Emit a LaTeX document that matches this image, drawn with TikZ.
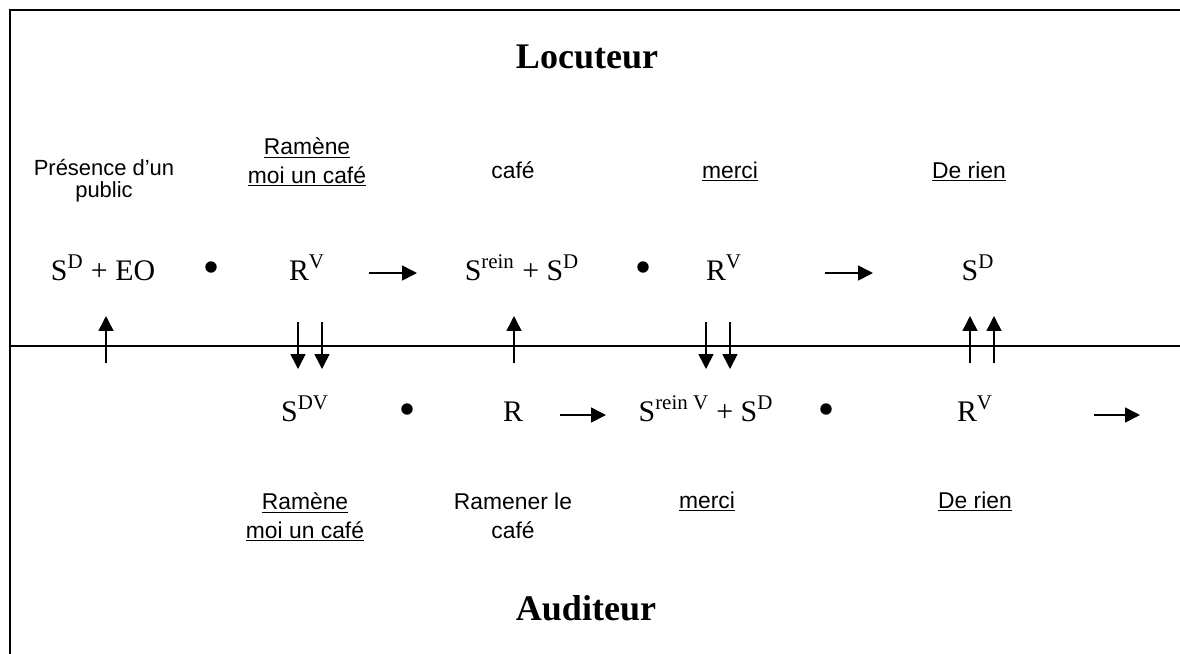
\documentclass[tikz,border=0pt]{standalone}
\usepackage{fontspec}
\setmainfont{Liberation Serif}
\newfontfamily\arialf{Liberation Sans}
\usetikzlibrary{arrows.meta}
\tikzset{
  frm/.style={font=\fontsize{17}{20}\selectfont, anchor=base, inner sep=0pt},
  lab/.style={font=\arialf\fontsize{13}{16}\selectfont, anchor=base, inner sep=0pt, align=center},
  smalllab/.style={font=\arialf\fontsize{12.5}{12}\selectfont, anchor=base, inner sep=0pt, align=center},
  ttl/.style={font=\bfseries\fontsize{20.5}{24}\selectfont, anchor=base, inner sep=0pt},
  dotmark/.style={circle, fill=black, inner sep=0pt, minimum size=6.5pt},
  arr/.style={line width=0.9pt, -{Triangle[length=8.5pt,width=8.5pt]}}
}
\begin{document}
\begin{tikzpicture}[x=0.02cm,y=-0.02cm]
\useasboundingbox (0,0) rectangle (1180,653);
\clip (0,0) rectangle (1180,653);
\draw[line width=1.2pt] (10,10) rectangle (1220,690);
\draw[line width=0.8pt] (10,346) -- (1220,346);

% titles
\node[ttl] (loc) at (587,68) {Locuteur};
\node[ttl] (aud) at (586,620) {Auditeur};

% top labels (base = baseline of last line)
\node[smalllab] (pres) at (104,197) {Présence d’un\\public};
\node[lab] (ram1) at (307,183) {\underline{Ramène}\\\underline{moi un café}};
\node[lab] (cafe1) at (513,178) {café};
\node[lab] (merci1) at (730,178) {\underline{merci}};
\node[lab] (rien1) at (969,178) {\underline{De rien}};

% top formulas
\node[frm] (f1) at (103,280) {S\textsuperscript{D} + EO};
\node[dotmark] (b1) at (211,267) {};
\node[frm] (f2) at (307,280) {R\textsuperscript{V}};
\node[frm] (f3) at (522,280) {S\textsuperscript{rein} + S\textsuperscript{D}};
\node[dotmark] (b2) at (643,267) {};
\node[frm] (f4) at (724,280) {R\textsuperscript{V}};
\node[frm] (f5) at (978,280) {S\textsuperscript{D}};

% top horizontal arrows
\coordinate (h1s) at (369,273); \coordinate (h1e) at (417,273);
\coordinate (h2s) at (825,273); \coordinate (h2e) at (873,273);
\draw[arr] (h1s) -- (h1e);
\draw[arr] (h2s) -- (h2e);

% bottom formulas
\node[frm] (g1) at (305,421) {S\textsuperscript{DV}};
\node[dotmark] (b3) at (407,409) {};
\node[frm] (g2) at (513,421) {R};
\node[frm] (g3) at (706,421) {S\textsuperscript{rein V} + S\textsuperscript{D}};
\node[dotmark] (b4) at (826,409) {};
\node[frm] (g4) at (975,421) {R\textsuperscript{V}};

% bottom horizontal arrows
\coordinate (h3s) at (560,415); \coordinate (h3e) at (606,415);
\coordinate (h4s) at (1094,415); \coordinate (h4e) at (1140,415);
\draw[arr] (h3s) -- (h3e);
\draw[arr] (h4s) -- (h4e);

% bottom labels
\node[lab] (ram2) at (305,538) {\underline{Ramène}\\\underline{moi un café}};
\node[lab] (ramener) at (513,538) {Ramener le\\café};
\node[lab] (merci2) at (707,508) {\underline{merci}};
\node[lab] (rien2) at (975,508) {\underline{De rien}};

% vertical arrows
\foreach \x/\n in {106/u1, 514/u2, 970/u3, 994/u4}{
  \coordinate (\n s) at (\x,363); \coordinate (\n e) at (\x,316);
  \draw[arr] (\n s) -- (\n e);
}
\foreach \x/\n in {298/d1, 322/d2, 706/d3, 730/d4}{
  \coordinate (\n s) at (\x,322); \coordinate (\n e) at (\x,369);
  \draw[arr] (\n s) -- (\n e);
}
\end{tikzpicture}
\end{document}
